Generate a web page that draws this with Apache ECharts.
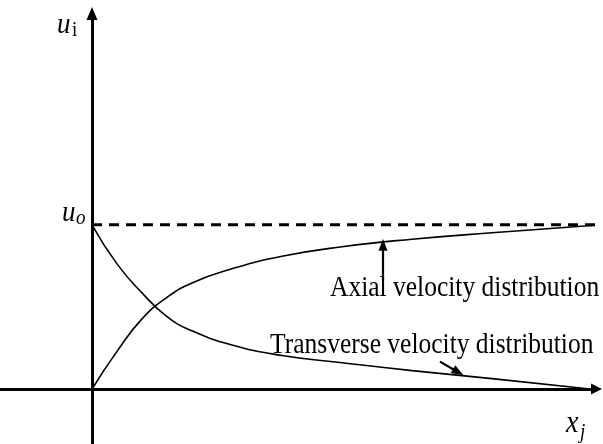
<!DOCTYPE html>
<html>
<head>
<meta charset="utf-8">
<script src="https://cdn.jsdelivr.net/npm/echarts@6/dist/echarts.min.js"></script>
<style>
  html, body { margin: 0; padding: 0; background: #fff; }
  #chart { width: 603px; height: 444px; }
</style>
</head>
<body>
<div id="chart"></div>
<script>
// Axial velocity profile u/u_o along x_j (rises from 0 toward u_o)
const axialX = [0, 0.25, 0.5, 0.75, 1.0, 1.4, 1.9, 2.5, 3.2, 4.0, 5.03];
const axialY = [0, 0.229, 0.427, 0.558, 0.646, 0.732, 0.808, 0.866, 0.912, 0.951, 0.997];

// Transverse velocity profile u/u_o along x_j (decays from u_o toward 0)
const transX = [0, 0.25, 0.5, 0.75, 1.0, 1.4, 1.9, 2.5, 3.2, 4.0, 4.98];
const transY = [1.0, 0.762, 0.585, 0.441, 0.354, 0.268, 0.204, 0.160, 0.112, 0.063, 0];

// Reference level u_o
const refLevel = 1;
const refSpan = [0, 5.11];

// Pointer arrows for the two annotations: [from, to]
const axialPointer = [[2.91, 0.665], [2.91, 0.878]];
const transPointer = [[3.48, 0.1665], [3.662, 0.1024]];

// Axis extents
const X_MIN = -0.92, X_MAX = 5.045;
const Y_MIN = -0.335, Y_MAX = 2.2866;

const serif = '"Liberation Serif", "Times New Roman", serif';

const chart = echarts.init(document.getElementById('chart'), null, { renderer: 'canvas' });

function pairs(xs, ys) { return xs.map((x, i) => [x, ys[i]]); }

const axisCommon = {
  type: 'value',
  axisTick: { show: false },
  axisLabel: { show: false },
  splitLine: { show: false }
};

function pointer(seg) {
  return {
    silent: true,
    symbol: ['none', 'triangle'],
    symbolSize: [9, 12],
    label: { show: false },
    lineStyle: { color: '#000', width: 2.2, type: 'solid' },
    data: [[{ coord: seg[0] }, { coord: seg[1] }]]
  };
}

function label(text, x, y, size, style) {
  return {
    type: 'text',
    x: x, y: y,
    scaleY: 1.12,
    style: {
      text: text,
      x: 0, y: 0,
      fill: '#000',
      font: (style || 'normal') + ' ' + size + 'px ' + serif,
      textAlign: 'left',
      textVerticalAlign: 'middle'
    }
  };
}

function curve(name, xs, ys, extra) {
  return Object.assign({
    name: name,
    type: 'line',
    data: pairs(xs, ys),
    smooth: 0.5,
    symbol: 'none',
    lineStyle: { color: '#000', width: 1.6 }
  }, extra);
}

const option = {
  animation: false,
  backgroundColor: '#fff',
  grid: { left: 0, right: 6.5, top: 13.5, bottom: 0 },
  xAxis: Object.assign({}, axisCommon, {
    min: X_MIN, max: X_MAX,
    axisLine: {
      onZero: true,
      symbol: ['none', 'triangle'],
      symbolSize: [11, 11],
      lineStyle: { color: '#000', width: 3 }
    }
  }),
  yAxis: Object.assign({}, axisCommon, {
    min: Y_MIN, max: Y_MAX,
    axisLine: {
      onZero: true,
      symbol: ['none', 'triangle'],
      symbolSize: [11, 13],
      lineStyle: { color: '#000', width: 3 }
    }
  }),
  series: [
    curve('Axial velocity distribution', axialX, axialY, { markLine: pointer(axialPointer) }),
    curve('Transverse velocity distribution', transX, transY, { markLine: pointer(transPointer) }),
    {
      name: 'u_o',
      type: 'line',
      data: refSpan.map(x => [x, refLevel]),
      clip: false,
      symbol: 'none',
      lineStyle: { color: '#000', width: 3, type: [10, 7] }
    }
  ],
  graphic: [
    label('Axial velocity distribution', 330, 288.5, 25.5),
    label('Transverse velocity distribution', 270, 345.5, 25.5),
    // axis symbols
    label('u', 57, 25.5, 27, 'italic'),
    label('i', 72, 30.5, 19),
    label('u', 62, 213.5, 27, 'italic'),
    label('o', 76, 218.5, 19, 'italic'),
    label('x', 566, 423.5, 28, 'italic'),
    label('j', 580, 432.5, 19, 'italic')
  ]
};

chart.setOption(option);
</script>
</body>
</html>
